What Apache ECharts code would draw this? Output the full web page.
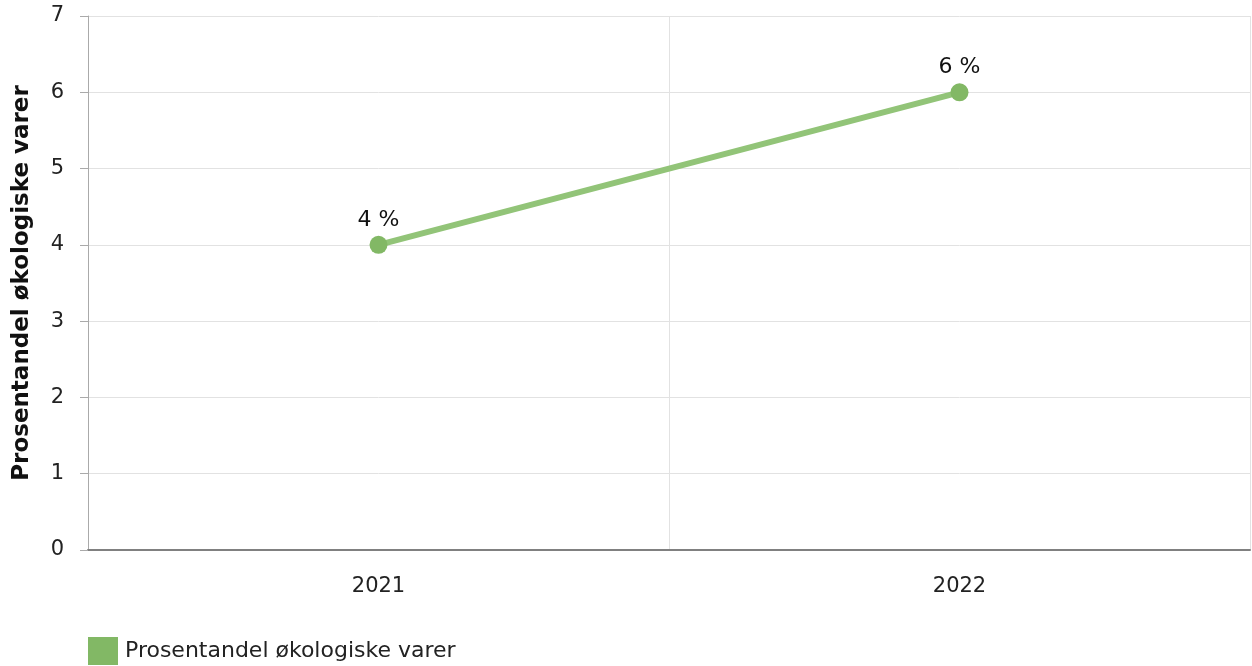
<!DOCTYPE html>
<html><head><meta charset="utf-8">
<script src="https://cdn.jsdelivr.net/npm/echarts@6/dist/echarts.min.js"></script>
<style>html,body{margin:0;padding:0;background:#fff}#c{width:1252px;height:666px}</style>
</head><body><div id="c"></div>
<script>
const categories = ['2021', '2022'];
const values = [4, 6];
const seriesName = 'Prosentandel økologiske varer';
const yAxisName = 'Prosentandel økologiske varer';

const font = "'DejaVu Sans', Verdana, sans-serif";
const chart = echarts.init(document.getElementById('c'), null, {renderer: 'canvas'});
chart.setOption({
  animation: false,
  textStyle: {fontFamily: font},
  grid: {left: 88, right: 2, top: 16, bottom: 116, containLabel: false, outerBoundsMode: 'none'},
  legend: {
    left: 88, top: 637, padding: 0, itemWidth: 30, itemHeight: 28, itemGap: 10,
    icon: 'rect',
    textStyle: {fontSize: 22, color: '#222', fontFamily: font, padding: [4, 0, 0, 2]},
    data: [{name: seriesName, icon: 'rect', itemStyle: {color: '#82b865'}}]
  },
  xAxis: {
    type: 'category', data: categories, boundaryGap: true,
    axisLine: {lineStyle: {color: '#808080', width: 2}},
    axisTick: {alignWithLabel: true, length: 8, lineStyle: {color: '#aaa'}},
    axisLabel: {fontSize: 21, color: '#222', margin: 26, fontFamily: font},
    splitLine: {show: true, lineStyle: {color: '#e2e2e2', width: 1}}
  },
  yAxis: {
    type: 'value', min: 0, max: 7, interval: 1,
    name: yAxisName, nameLocation: 'middle', nameGap: 54,
    nameTextStyle: {fontSize: 23, fontWeight: 'bold', color: '#111', fontFamily: font},
    axisLine: {show: true, lineStyle: {color: '#aaa', width: 1}},
    axisTick: {show: true, length: 8, lineStyle: {color: '#aaa'}},
    axisLabel: {fontSize: 21, color: '#222', margin: 24, fontFamily: font},
    splitLine: {lineStyle: {color: '#e2e2e2', width: 1}}
  },
  series: [{
    name: seriesName, type: 'line', data: values,
    symbol: 'circle', symbolSize: 18,
    lineStyle: {color: '#92c478', width: 6},
    itemStyle: {color: '#82b865'},
    label: {show: true, position: 'top', distance: 5, fontSize: 22, color: '#111',
      fontFamily: font, formatter: p => p.value + ' %'}
  }]
});
</script></body></html>
